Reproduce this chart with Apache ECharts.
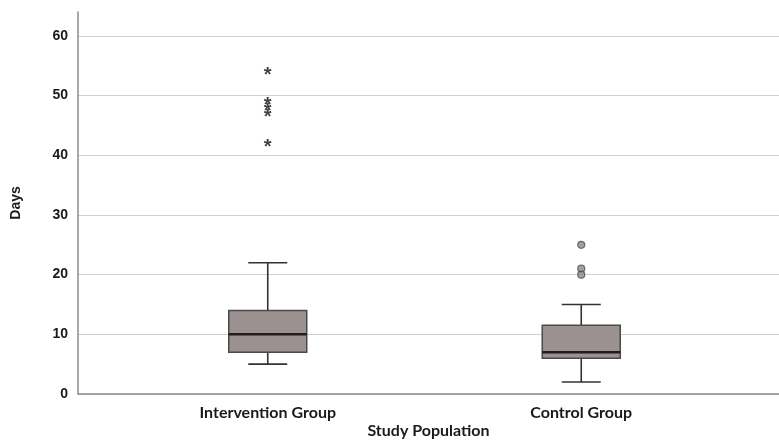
<!DOCTYPE html>
<html>
<head>
<meta charset="utf-8">
<script src="https://cdn.jsdelivr.net/npm/echarts@6/dist/echarts.min.js"></script>
<style>
  html, body { margin: 0; padding: 0; background: #fff; }
  #chart { width: 779px; height: 444px; }
</style>
</head>
<body>
<div id="chart"></div>
<script>
// groups on the x axis
const groups = ['Intervention Group', 'Control Group']
// [low whisker, Q1, median, Q3, high whisker]
const boxValues = [
  [5, 7, 10, 14, 22],
  [2, 6, 7, 11.5, 15],
]
// extreme outliers (drawn as stars) - intervention group
const starOutliers = [54, 49, 48, 47, 42]
// outliers (drawn as circles) - control group
const circleOutliers = [25, 21, 20]
const yTicks = [0, 10, 20, 30, 40, 50, 60]

const chart = echarts.init(document.getElementById('chart'))

const labelFont = { color: '#1a1a1a', fontWeight: 'bold', fontFamily: 'Liberation Sans, Arial', fontSize: 14 }
const catFont = { color: '#1a1a1a', fontWeight: 'bold', fontFamily: 'Lato, "Open Sans", sans-serif', fontSize: 16 }

const BOX_W = 78
const CAP_W = 39

// box + whiskers drawn from the axis scales
function renderBox(params, api) {
  const idx = api.value(0)
  const lo = api.coord([idx, api.value(1)])
  const q1 = api.coord([idx, api.value(2)])
  const med = api.coord([idx, api.value(3)])
  const q3 = api.coord([idx, api.value(4)])
  const hi = api.coord([idx, api.value(5)])
  const cx = lo[0]
  const whisker = { stroke: '#333', lineWidth: 1.6 }
  return {
    type: 'group',
    children: [
      { type: 'line', shape: { x1: cx, y1: hi[1], x2: cx, y2: q3[1] }, style: whisker },
      { type: 'line', shape: { x1: cx, y1: q1[1], x2: cx, y2: lo[1] }, style: whisker },
      { type: 'line', shape: { x1: cx - CAP_W / 2, y1: hi[1], x2: cx + CAP_W / 2, y2: hi[1] }, style: whisker },
      { type: 'line', shape: { x1: cx - CAP_W / 2, y1: lo[1], x2: cx + CAP_W / 2, y2: lo[1] }, style: whisker },
      {
        type: 'rect',
        shape: { x: cx - BOX_W / 2, y: q3[1], width: BOX_W, height: q1[1] - q3[1] },
        style: { fill: '#9b9191', stroke: '#4a4a4a', lineWidth: 1.5 },
      },
      { type: 'line', shape: { x1: cx - BOX_W / 2, y1: med[1], x2: cx + BOX_W / 2, y2: med[1] }, style: { stroke: '#1e1e1e', lineWidth: 2.5 } },
    ],
  }
}

const option = {
  backgroundColor: '#fff',
  animation: false,
  grid: [
    { left: 78, right: 0, top: 12, bottom: 50, outerBoundsMode: 'none', containLabel: false },
    { left: 111, right: 41, top: 12, bottom: 50, outerBoundsMode: 'none', containLabel: false },
  ],
  xAxis: [
    {
      gridIndex: 0,
      type: 'value',
      min: 0,
      max: 1,
      axisLine: { show: true, onZero: false, lineStyle: { color: '#8c8c8c', width: 1.5 } },
      axisTick: { show: false },
      axisLabel: { show: false },
      splitLine: { show: false },
      name: 'Study Population',
      nameLocation: 'middle',
      nameGap: 29,
      nameTextStyle: catFont,
    },
    {
      gridIndex: 1,
      type: 'category',
      data: groups,
      axisLine: { show: false },
      axisTick: { show: false },
      axisLabel: { ...catFont, margin: 11 },
    },
  ],
  yAxis: [
    {
      gridIndex: 0,
      type: 'value',
      min: 0,
      max: 64,
      interval: 10,
      axisLine: { show: true, lineStyle: { color: '#8c8c8c', width: 1.5 } },
      axisTick: { show: false },
      axisLabel: {
        ...labelFont,
        margin: 10,
        showMaxLabel: false,
        formatter: (v) => (yTicks.includes(v) ? String(v) : ''),
      },
      splitLine: { show: true, showMaxLine: false, lineStyle: { color: '#cfcfcf', width: 1.2 } },
      name: 'Days',
      nameLocation: 'middle',
      nameGap: 55,
      nameRotate: 90,
      nameTextStyle: labelFont,
    },
    {
      gridIndex: 1,
      type: 'value',
      min: 0,
      max: 64,
      show: false,
      splitLine: { show: false },
    },
  ],
  series: [
    {
      type: 'custom',
      xAxisIndex: 1,
      yAxisIndex: 1,
      renderItem: renderBox,
      encode: { x: 0, y: [1, 2, 3, 4, 5] },
      data: boxValues.map((b, i) => [i, ...b]),
      z: 3,
    },
    {
      type: 'scatter',
      xAxisIndex: 1,
      yAxisIndex: 1,
      data: starOutliers.map((v) => [groups[0], v]),
      symbolSize: 1,
      itemStyle: { color: 'rgba(0,0,0,0)' },
      label: {
        show: true,
        position: 'inside',
        formatter: '*',
        color: '#111',
        fontSize: 20,
        fontWeight: 'bold',
        fontFamily: 'Liberation Sans, Arial',
        offset: [0, 4],
      },
      z: 4,
    },
    {
      type: 'scatter',
      xAxisIndex: 1,
      yAxisIndex: 1,
      data: circleOutliers.map((v) => [groups[1], v]),
      symbol: 'circle',
      symbolSize: 7,
      itemStyle: { color: '#8a8a8a', borderColor: '#505050', borderWidth: 1.2 },
      z: 4,
    },
  ],
}

chart.setOption(option)
</script>
</body>
</html>
